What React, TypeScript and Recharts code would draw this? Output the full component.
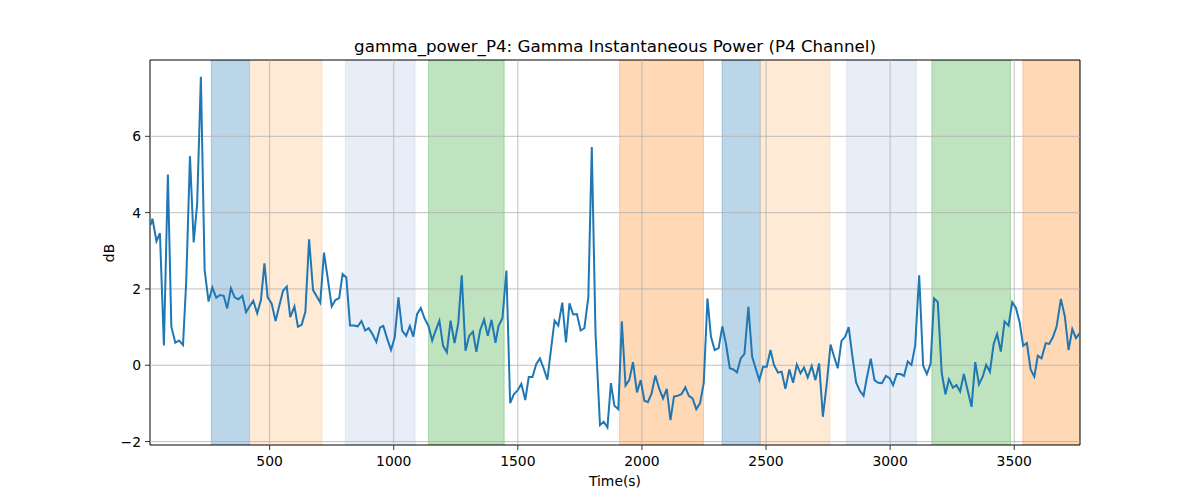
import React from 'react';
import { LineChart, Line, XAxis, YAxis, ReferenceArea, ReferenceLine } from 'recharts';

const times = [
  20, 28, 44, 58, 74, 90, 104, 120, 135, 151, 164, 179, 194, 208, 223, 238, 254, 269, 285, 300,
  315, 329, 344, 359, 374, 390, 405, 419, 434, 450, 465, 479, 492, 508, 524, 539, 554, 569, 583, 600,
  614, 629, 644, 659, 675, 690, 704, 719, 734, 750, 765, 780, 794, 809, 824, 839, 855, 870, 885, 899,
  914, 930, 945, 958, 973, 989, 1004, 1019, 1034, 1050, 1065, 1079, 1094, 1109, 1124, 1140, 1155, 1169, 1184, 1199,
  1214, 1229, 1245, 1260, 1274, 1289, 1304, 1319, 1333, 1348, 1364, 1379, 1394, 1410, 1422, 1438, 1454, 1469, 1484, 1499,
  1514, 1530, 1544, 1559, 1574, 1589, 1604, 1619, 1633, 1648, 1663, 1679, 1694, 1708, 1723, 1738, 1753, 1768, 1784, 1798,
  1813, 1831, 1846, 1861, 1875, 1889, 1905, 1919, 1934, 1949, 1964, 1980, 1995, 2010, 2024, 2039, 2054, 2070, 2085, 2100,
  2115, 2129, 2144, 2160, 2175, 2189, 2204, 2219, 2234, 2249, 2264, 2278, 2293, 2309, 2324, 2339, 2354, 2369, 2383, 2398,
  2413, 2429, 2444, 2458, 2473, 2488, 2503, 2518, 2532, 2548, 2563, 2578, 2594, 2609, 2624, 2639, 2653, 2668, 2684, 2699,
  2714, 2729, 2744, 2760, 2774, 2789, 2804, 2819, 2833, 2848, 2863, 2878, 2893, 2907, 2922, 2937, 2952, 2967, 2983, 2998,
  3012, 3027, 3042, 3056, 3071, 3086, 3101, 3117, 3133, 3148, 3163, 3177, 3192, 3208, 3223, 3237, 3253, 3267, 3282, 3297,
  3312, 3328, 3343, 3358, 3373, 3387, 3402, 3417, 3431, 3446, 3461, 3477, 3492, 3507, 3522, 3536, 3551, 3566, 3581, 3595,
  3610, 3627, 3641, 3656, 3671, 3688, 3704, 3719, 3734, 3749, 3764,
];

const power = [
  3.67, 3.84, 3.25, 3.46, 0.52, 5.0, 1.01, 0.59, 0.65, 0.53, 2.2, 5.48, 3.22, 4.24, 7.56, 2.5, 1.67, 2.04, 1.77, 1.84,
  1.82, 1.49, 2.02, 1.78, 1.73, 1.82, 1.39, 1.54, 1.69, 1.36, 1.71, 2.67, 1.78, 1.62, 1.16, 1.56, 1.95, 2.06, 1.26, 1.54,
  1.01, 1.06, 1.4, 3.3, 1.97, 1.8, 1.64, 2.95, 2.28, 1.54, 1.71, 1.76, 2.39, 2.3, 1.04, 1.04, 1.02, 1.16, 0.91, 0.97,
  0.82, 0.61, 0.99, 1.03, 0.71, 0.4, 0.73, 1.78, 0.91, 0.77, 1.03, 0.75, 1.34, 1.5, 1.23, 1.03, 0.65, 0.91, 1.17, 0.51,
  0.34, 1.17, 0.58, 1.1, 2.36, 0.38, 0.77, 0.88, 0.35, 0.91, 1.2, 0.77, 1.19, 0.59, 1.03, 1.23, 2.48, -0.99, -0.76, -0.66,
  -0.49, -0.91, -0.31, -0.31, 0.03, 0.18, -0.08, -0.38, 0.38, 1.17, 1.04, 1.64, 0.6, 1.62, 1.33, 1.34, 0.91, 0.97, 1.78, 5.72,
  0.84, -1.57, -1.48, -1.63, -0.47, -1.06, -1.15, 1.15, -0.53, -0.39, 0.08, -0.71, -0.39, -0.93, -0.97, -0.74, -0.27, -0.62, -0.87, -0.62,
  -1.44, -0.82, -0.8, -0.75, -0.58, -0.8, -0.87, -1.15, -1.0, -0.47, 1.75, 0.75, 0.4, 0.45, 1.02, 0.55, -0.08, -0.11, -0.19, 0.18,
  0.3, 1.53, 0.23, -0.08, -0.39, -0.04, -0.04, 0.4, 0.01, -0.19, -0.17, -0.62, -0.11, -0.46, 0.02, -0.21, -0.06, -0.32, -0.02, -0.39,
  0.05, -1.35, -0.52, 0.54, 0.23, -0.08, 0.64, 0.75, 1.0, 0.23, -0.45, -0.67, -0.8, -0.3, 0.17, -0.39, -0.46, -0.47, -0.28, -0.34,
  -0.52, -0.23, -0.23, -0.28, 0.1, 0.01, 0.52, 2.36, -0.01, -0.23, 0.04, 1.75, 1.66, -0.21, -0.76, -0.37, -0.59, -0.52, -0.69, -0.23,
  -0.65, -1.09, 0.08, -0.5, -0.3, 0.01, -0.17, 0.55, 0.82, 0.36, 1.15, 1.04, 1.65, 1.5, 1.12, 0.51, 0.58, -0.11, -0.3, 0.25,
  0.18, 0.58, 0.56, 0.74, 1.02, 1.74, 1.28, 0.4, 0.95, 0.71, 0.84,
];

const bandStart = [265, 419, 805, 1140, 1910, 2323, 2477, 2825, 3168, 3535];
const bandEnd = [419, 711, 1086, 1445, 2248, 2477, 2757, 3106, 3485, 3765];
const bandKind = ['blue', 'peach', 'lavender', 'green', 'orange', 'blue', 'peach', 'lavender', 'green', 'orange'];

const xTicks = [500, 1000, 1500, 2000, 2500, 3000, 3500];
const yTicks = [-2, 0, 2, 4, 6];

const X_MIN = 18;
const X_MAX = 3765;
const Y_MIN = -2.09;
const Y_MAX = 8.0;

const kindStyle: Record<string, { color: string; opacity: number }> = {
  blue: { color: '#1f77b4', opacity: 0.3 },
  peach: { color: '#ffbb78', opacity: 0.3 },
  lavender: { color: '#aec7e8', opacity: 0.3 },
  green: { color: '#2ca02c', opacity: 0.3 },
  orange: { color: '#ff7f0e', opacity: 0.3 },
};

const data = times.map((t, i) => ({ t, v: power[i] }));

const FONT = 'DejaVu Sans, sans-serif';
const fmt = (v: number) => String(v).replace('-', '\u2212');

export default function App() {
  return (
    <div style={{ position: 'absolute', left: 0, top: 0, width: 1200, height: 500, background: '#fff' }}>
      <LineChart
        width={1200}
        height={500}
        data={data}
        margin={{ top: 60, right: 120, bottom: 0, left: 0 }}
      >
        <XAxis
          dataKey="t"
          type="number"
          domain={[X_MIN, X_MAX]}
          allowDataOverflow
          ticks={xTicks}
          tickFormatter={fmt}
          height={55}
          axisLine={false}
          tickLine={{ stroke: '#000', strokeWidth: 0.8 }}
          tickSize={5}
          tickMargin={6}
          tick={{ fill: '#000', fontSize: 13.9, fontFamily: FONT }}
        />
        <YAxis
          type="number"
          domain={[Y_MIN, Y_MAX]}
          allowDataOverflow
          ticks={yTicks}
          tickFormatter={fmt}
          width={150}
          axisLine={false}
          tickLine={{ stroke: '#000', strokeWidth: 0.8 }}
          tickSize={5}
          tickMargin={4}
          tick={{ fill: '#000', fontSize: 13.9, fontFamily: FONT }}
        />
        {bandStart.map((s, i) => (
          <ReferenceArea
            key={'band' + i}
            x1={s}
            x2={bandEnd[i]}
            y1={Y_MIN}
            y2={Y_MAX}
            fill={kindStyle[bandKind[i]].color}
            fillOpacity={kindStyle[bandKind[i]].opacity}
            stroke={kindStyle[bandKind[i]].color}
            strokeOpacity={kindStyle[bandKind[i]].opacity}
            strokeWidth={1}
            ifOverflow="hidden"
          />
        ))}
        {xTicks.map((x) => (
          <ReferenceLine key={'gx' + x} x={x} stroke="#b0b0b0" strokeWidth={0.8} />
        ))}
        {yTicks.map((y) => (
          <ReferenceLine key={'gy' + y} y={y} stroke="#b0b0b0" strokeWidth={0.8} />
        ))}
        <Line
          type="linear"
          dataKey="v"
          stroke="#1f77b4"
          strokeWidth={2}
          dot={false}
          activeDot={false}
          isAnimationActive={false}
        />
        <ReferenceArea
          x1={X_MIN}
          x2={X_MAX}
          y1={Y_MIN}
          y2={Y_MAX}
          fill="none"
          stroke="#000"
          strokeWidth={1}
        />
      </LineChart>
      <svg
        width={1200}
        height={500}
        style={{ position: 'absolute', left: 0, top: 0, pointerEvents: 'none' }}
      >
        <text x={615} y={52} textAnchor="middle" fontSize={16.7} fontFamily={FONT} fill="#000">
          gamma_power_P4: Gamma Instantaneous Power (P4 Channel)
        </text>
        <text x={615} y={486} textAnchor="middle" fontSize={13.9} fontFamily={FONT} fill="#000">
          Time(s)
        </text>
        <text
          x={114}
          y={253}
          textAnchor="middle"
          fontSize={13.9}
          fontFamily={FONT}
          fill="#000"
          transform="rotate(-90 114 253)"
        >
          dB
        </text>
      </svg>
    </div>
  );
}
